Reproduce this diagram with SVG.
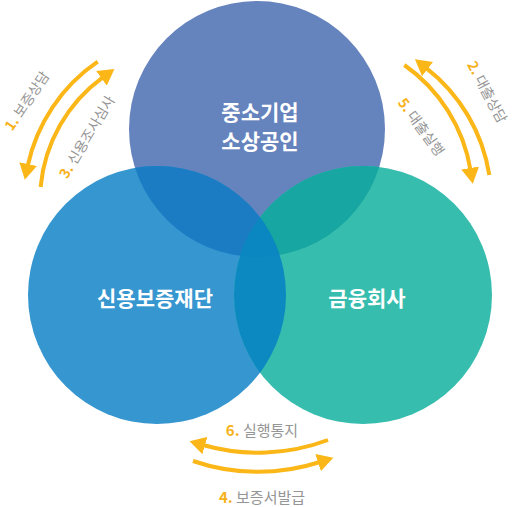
<svg xmlns="http://www.w3.org/2000/svg" width="515" height="507" viewBox="0 0 515 507">
<style>
.node{font-family:"Noto Sans CJK KR","Noto Sans",sans-serif;font-weight:700;fill:#ffffff;font-size:21px;text-anchor:middle}
.lbl{font-family:"Noto Sans CJK KR","Noto Sans",sans-serif;font-size:14px;fill:#959595;text-anchor:middle}
.lblb{font-size:15px}
.num{fill:#f7b21b;font-weight:700}
.arc{fill:none;stroke:#fbb617;stroke-width:4}
</style>
<defs>
<clipPath id="cTop"><circle cx="257" cy="129" r="128"/></clipPath>
<clipPath id="cLeft"><circle cx="157" cy="295" r="129"/></clipPath>
<marker id="ah" markerUnits="userSpaceOnUse" markerWidth="16" markerHeight="18" viewBox="0 0 16 18" refX="2" refY="9" orient="auto"><path d="M0,0 L16,9 L0,18 z" fill="#fbb617"/></marker>
</defs>
<g id="circles">
<circle cx="257" cy="129" r="128" fill="#6583bd"/>
<circle cx="157" cy="295" r="129" fill="#3696d0"/>
<circle cx="363" cy="295" r="129" fill="#37bdae"/>
<g clip-path="url(#cTop)">
<circle cx="157" cy="295" r="129" fill="#1b7cc3"/>
<circle cx="363" cy="295" r="129" fill="#17a6a2"/>
</g>
<g clip-path="url(#cLeft)">
<circle cx="363" cy="295" r="129" fill="#0d89c1"/>
</g>
<g clip-path="url(#cTop)"><g clip-path="url(#cLeft)">
<circle cx="363" cy="295" r="129" fill="#0a86c0"/>
</g></g>
</g>
<g id="node-sme">
<text class="node" x="260" y="120">중소기업</text>
<text class="node" x="260" y="149">소상공인</text>
</g>
<g id="node-foundation">
<text class="node" x="155" y="306">신용보증재단</text>
</g>
<g id="node-finance">
<text class="node" x="367" y="306">금융회사</text>
</g>
<g id="connectors">
<path class="arc" d="M97.7,61.7 A169,169 0 0,0 27.7,166" marker-end="url(#ah)"/>
<path class="arc" d="M40.6,187 A153,153 0 0,1 103.1,77.2" marker-end="url(#ah)"/>
<path class="arc" d="M489.3,175 A169,169 0 0,0 426,67.8" marker-end="url(#ah)"/>
<path class="arc" d="M404.3,65 A160,160 0 0,1 470.5,170" marker-end="url(#ah)"/>
<path class="arc" d="M328,440 A200,200 0 0,1 203,445" marker-end="url(#ah)"/>
<path class="arc" d="M193,461 A200,200 0 0,0 320,462" marker-end="url(#ah)"/>
</g>
<g id="labels">
<text class="lbl" transform="translate(27,101) rotate(-56)" dy="5"><tspan class="num">1.</tspan> 보증상담</text>
<text class="lbl" transform="translate(87,137) rotate(-59)" dy="5"><tspan class="num">3.</tspan> 신용조사심사</text>
<text class="lbl" transform="translate(487,92) rotate(62)" dy="5"><tspan class="num">2.</tspan> 대출상담</text>
<text class="lbl" transform="translate(421,127) rotate(54)" dy="5"><tspan class="num">5.</tspan> 대출실행</text>
<text class="lbl lblb" x="262" y="436"><tspan class="num">6.</tspan> 실행통지</text>
<text class="lbl lblb" x="262" y="503"><tspan class="num">4.</tspan> 보증서발급</text>
</g>
</svg>
